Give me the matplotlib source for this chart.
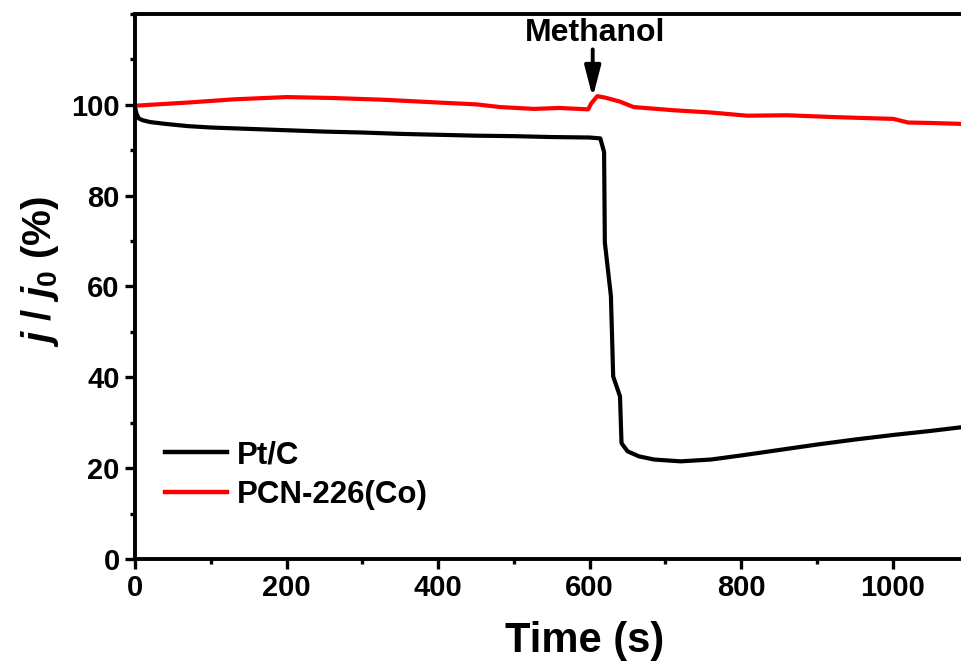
import matplotlib
matplotlib.use("Agg")
import matplotlib.pyplot as plt
from matplotlib.ticker import MultipleLocator

plt.rcParams['font.family'] = 'Liberation Sans'
plt.rcParams['font.weight'] = 'bold'
plt.rcParams['mathtext.fontset'] = 'custom'
plt.rcParams['mathtext.it'] = 'Liberation Sans:italic:bold'
plt.rcParams['mathtext.rm'] = 'Liberation Sans:bold'

# Pt/C chronoamperometry (normalised current, %)
ptc_t = [0, 2, 5, 10, 20, 40, 70, 100, 150, 200, 250, 300, 350, 400, 450, 500,
         550, 600, 614, 619, 620, 628, 631, 640, 642, 650, 665, 685, 720, 760,
         800, 850, 900, 950, 1000, 1050, 1090]
ptc_v = [99.5, 98.0, 97.0, 96.6, 96.2, 95.8, 95.3, 95.0, 94.7, 94.4, 94.1, 93.9,
         93.6, 93.4, 93.2, 93.1, 92.9, 92.8, 92.6, 89.6, 69.7, 57.9, 40.2, 35.8,
         25.5, 23.7, 22.6, 21.9, 21.5, 21.9, 22.8, 24.0, 25.2, 26.3, 27.3, 28.2, 29.0]

# PCN-226(Co)
pcn_t = [0, 30, 70, 130, 200, 260, 330, 400, 450, 482, 526, 560, 598, 602, 610,
         620, 640, 658, 711, 760, 808, 860, 922, 960, 1001, 1020, 1050, 1090]
pcn_v = [99.8, 100.1, 100.5, 101.2, 101.7, 101.5, 101.1, 100.5, 100.1, 99.5, 99.1,
         99.3, 99.0, 100.3, 101.9, 101.6, 100.7, 99.5, 98.8, 98.3, 97.6, 97.7, 97.3,
         97.1, 96.9, 96.1, 96.0, 95.8]

fig = plt.figure(figsize=(9.61, 6.65), dpi=100)
ax = fig.add_axes([0.1405, 0.1594, 0.8595, 0.8196])

ax.plot(ptc_t, ptc_v, color='black', lw=3.0, label='Pt/C')
ax.plot(pcn_t, pcn_v, color='red', lw=3.0, label='PCN-226(Co)')

ax.set_xlim(0, 1090)
ax.set_ylim(0, 120)
ax.xaxis.set_major_locator(MultipleLocator(200))
ax.xaxis.set_minor_locator(MultipleLocator(100))
ax.yaxis.set_major_locator(MultipleLocator(20))
ax.yaxis.set_minor_locator(MultipleLocator(10))
ax.set_yticks([0, 20, 40, 60, 80, 100])

for s in ['left', 'bottom', 'top']:
    ax.spines[s].set_linewidth(2.8)
ax.spines['right'].set_visible(False)
ax.tick_params(which='major', direction='out', length=7, width=2.4,
               labelsize=21, pad=4)
ax.tick_params(which='minor', direction='out', length=3.5, width=2.4)
ax.tick_params(top=False, right=False)

ax.set_xlabel('Time (s)', fontsize=30, fontweight='bold')
ax.xaxis.set_label_coords(0.544, -0.113)
ax.set_ylabel(r'$\mathit{j}$ / $\mathit{j}_0$ (%)', fontsize=29,
              fontweight='bold')
ax.yaxis.set_label_coords(-0.09, 0.527)

ax.annotate('', xy=(604, 101.6), xytext=(604, 112.2),
            arrowprops=dict(arrowstyle='-|>,head_width=0.22,head_length=0.85',
                            color='black', lw=2.8, mutation_scale=22,
                            shrinkA=0, shrinkB=0))
ax.text(607, 115.8, 'Methanol', ha='center', va='center', fontsize=23,
        fontweight='bold')

leg = ax.legend(loc='upper left', bbox_to_anchor=(0.036, 0.218), frameon=False,
                fontsize=22.5, handlelength=2.0, handletextpad=0.3,
                borderpad=0, borderaxespad=0, labelspacing=0.3)
for line in leg.get_lines():
    line.set_linewidth(3.2)

fig.savefig('out.png', dpi=100)
